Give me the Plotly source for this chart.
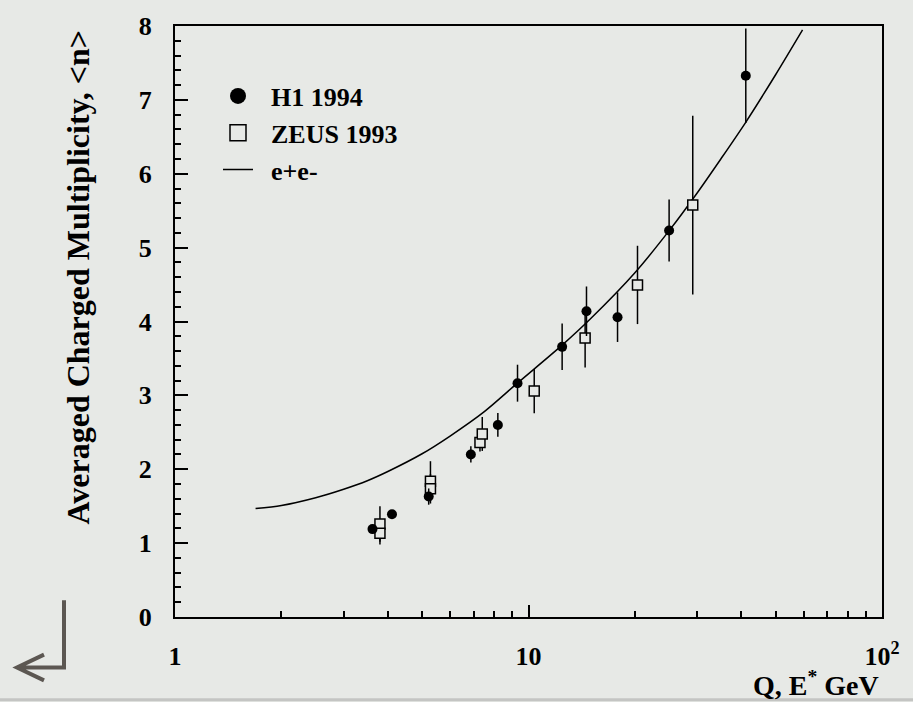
import plotly.graph_objects as go

# H1 1994 mean charged multiplicity vs Q
h1_q = [3.62, 4.11, 5.22, 6.87, 8.19, 9.31, 12.45, 14.59, 17.86, 24.99, 41.18]
h1_n = [1.19, 1.39, 1.63, 2.20, 2.60, 3.165, 3.657, 4.139, 4.058, 5.232, 7.327]
h1_err = [0.06, 0.06, 0.11, 0.11, 0.16, 0.25, 0.315, 0.335, 0.335, 0.42, 0.64]

# ZEUS 1993 mean charged multiplicity vs Q
zeus_q = [3.80, 3.80, 5.28, 5.28, 7.29, 7.40, 10.38, 14.46, 20.34, 29.15]
zeus_n = [1.26, 1.133, 1.839, 1.736, 2.361, 2.478, 3.058, 3.777, 4.495, 5.576]
zeus_err = [0.24, 0.15, 0.27, 0.20, 0.12, 0.23, 0.30, 0.40, 0.53, 1.21]

# e+e- reference curve, multiplicity vs E*
ee_q = [1.69, 2.0, 2.5, 3.0, 3.5, 4.0, 5.0, 6.0, 7.5, 9.3,
        12.45, 15.0, 20.0, 25.0, 30.0, 35.0, 41.2, 50.0, 59.6]
ee_n = [1.468, 1.51, 1.615, 1.73, 1.845, 1.97, 2.21, 2.45, 2.78, 3.165,
        3.68, 4.04, 4.66, 5.23, 5.74, 6.20, 6.70, 7.34, 7.947]

x_tick_vals = [1, 10, 100]
x_tick_text = ["1", "10", "10<sup>2</sup>"]

BG = "#e7e9e6"
INK = "#000000"
SERIF = "Liberation Serif"
PAD = "\u00a0\u00a0"

W, H = 913, 702
ML, MR, MT, MB = 175, 31, 20, 85


def px(x):
    return (x - ML) / (W - ML - MR)


def py(y):
    return (H - MB - y) / (H - MT - MB)


fig = go.Figure()

fig.add_trace(go.Scatter(
    x=ee_q, y=ee_n, mode="lines",
    line=dict(color=INK, width=1.5, shape="spline", smoothing=0.8),
    showlegend=False, hoverinfo="skip",
))
fig.add_trace(go.Scatter(
    x=zeus_q, y=zeus_n, mode="markers",
    marker=dict(symbol="square", size=10, color=BG, line=dict(color=INK, width=1.5)),
    error_y=dict(type="data", array=zeus_err, color=INK, thickness=1.5, width=0),
    showlegend=False,
))
fig.add_trace(go.Scatter(
    x=h1_q, y=h1_n, mode="markers",
    marker=dict(symbol="circle", size=10, color=INK),
    error_y=dict(type="data", array=h1_err, color=INK, thickness=1.5, width=0),
    showlegend=False,
))

# legend entries
fig.add_trace(go.Scatter(x=[None], y=[None], mode="markers", name=PAD + "H1 1994",
                         marker=dict(symbol="circle", size=16, color=INK)))
fig.add_trace(go.Scatter(x=[None], y=[None], mode="markers", name=PAD + "ZEUS 1993",
                         marker=dict(symbol="square", size=16, color=BG,
                                     line=dict(color=INK, width=1.5))))
fig.add_trace(go.Scatter(x=[None], y=[None], mode="lines", name=PAD + "e+e-",
                         line=dict(color=INK, width=1.5)))

axis_font = dict(family=SERIF, size=26, color=INK, weight="bold")

fig.update_xaxes(
    type="log", range=[0, 2],
    tickvals=x_tick_vals, ticktext=x_tick_text,
    ticks="inside", ticklen=12, tickwidth=1.5, tickcolor=INK,
    minor=dict(ticks="inside", ticklen=6, tickwidth=1.5, tickcolor=INK,
               tickvals=[m * d for d in (1, 10) for m in range(2, 10)]),
    showline=True, linecolor=INK, linewidth=2, mirror=True,
    showgrid=False, zeroline=False,
    tickfont=axis_font, ticklabelstandoff=15,
)
fig.update_yaxes(
    range=[0, 8], dtick=1, tick0=0,
    ticks="inside", ticklen=13, tickwidth=1.5, tickcolor=INK,
    minor=dict(ticks="inside", ticklen=6, tickwidth=1.5, tickcolor=INK, dtick=0.2),
    showline=True, linecolor=INK, linewidth=2, mirror=True,
    showgrid=False, zeroline=False,
    tickfont=axis_font, ticklabelstandoff=16,
)

fig.add_annotation(
    text="Averaged Charged Multiplicity, &lt;n&gt;", textangle=-90,
    xref="paper", yref="paper", x=px(78), y=py(274),
    xanchor="center", yanchor="middle", showarrow=False,
    font=dict(family=SERIF, size=32, color=INK, weight="bold"),
)
fig.add_annotation(
    text="Q, E<sup>*</sup> GeV",
    xref="paper", yref="paper", x=px(881), y=py(703.5),
    xanchor="right", yanchor="bottom", showarrow=False,
    font=dict(family=SERIF, size=28, color=INK, weight="bold"),
)

# return arrow in the lower-left corner
ARROW = "#5c5752"
arrow_path = "M {a},{b} L {a},{c} L {d},{c} M {e},{f} L {d},{c} L {e},{g}".format(
    a=px(64), b=py(600), c=py(668), d=px(17), e=px(44), f=py(655), g=py(681))
fig.add_shape(type="path", path=arrow_path, xref="paper", yref="paper",
              line=dict(color=ARROW, width=4), layer="above")
fig.add_shape(type="rect", xref="paper", yref="paper",
              x0=px(0), x1=px(W), y0=py(H), y1=py(699),
              line=dict(width=0), fillcolor="#c4c5c3", layer="below")

fig.update_layout(
    width=W, height=H, autosize=False,
    margin=dict(l=ML, r=MR, t=MT, b=MB),
    paper_bgcolor=BG, plot_bgcolor=BG,
    showlegend=True,
    legend=dict(
        x=px(218), y=py(67), xanchor="left", yanchor="top",
        bgcolor="rgba(0,0,0,0)", borderwidth=0,
        font=dict(family=SERIF, size=26, color=INK, weight="bold"),
        traceorder="normal", itemsizing="trace",
    ),
)

fig.write_html("out.html")
